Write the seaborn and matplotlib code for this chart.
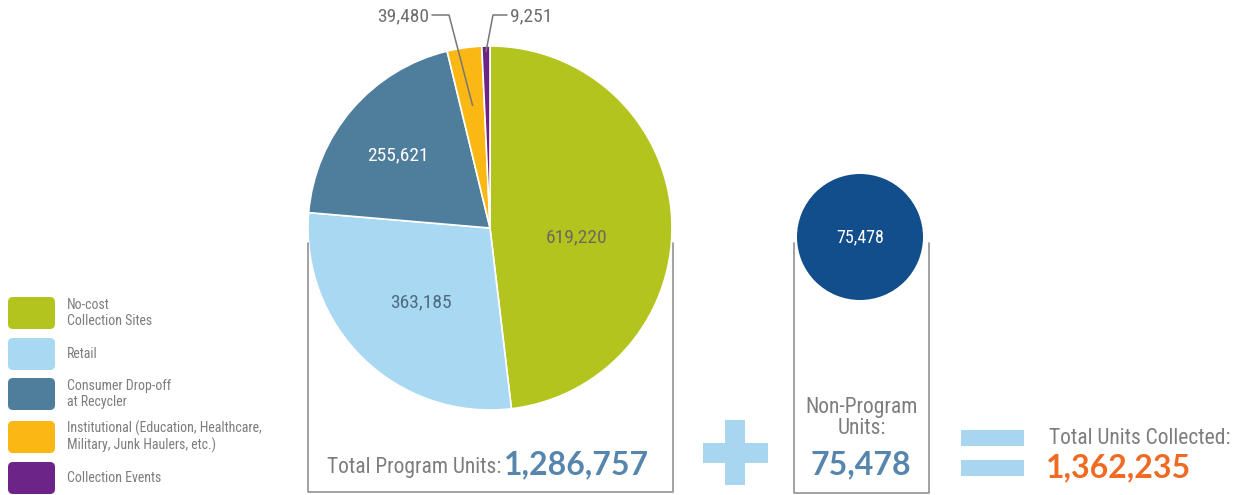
import matplotlib
matplotlib.use("Agg")
import numpy as np
import matplotlib.pyplot as plt
from matplotlib import font_manager as fm
from matplotlib.patches import FancyBboxPatch, Rectangle
import seaborn as sns

# ---------------- data ----------------
categories = ["No-cost\nCollection Sites", "Retail", "Consumer Drop-off\nat Recycler",
              "Institutional (Education, Healthcare,\nMilitary, Junk Haulers, etc.)",
              "Collection Events"]
program_units = [619220, 363185, 255621, 39480, 9251]
non_program_units = [75478]
total_program_units = 1286757
total_units_collected = 1362235

# ---------------- style ----------------
sns.set_theme(style="white")
fonts = fm.fontManager.ttflist
avail = {f.name for f in fonts}


def pick(cands):
    return next((c for c in cands if c in avail), "DejaVu Sans")


def pick_bold(cands):
    for c in cands:
        if any(f.name == c and isinstance(f.weight, int) and f.weight >= 700 for f in fonts):
            return c
        if any(f.name == c and f.weight in ("bold", "heavy", "black") for f in fonts):
            return c
    return "DejaVu Sans"


NARROW = [pick(['Roboto Condensed', 'Fira Sans Condensed', 'Liberation Sans Narrow']), 'DejaVu Sans']
BOLD = [pick_bold(['Nunito', 'Nunito Sans', 'Lato', 'Open Sans']), 'DejaVu Sans']
plt.rcParams['font.family'] = NARROW

palette = sns.color_palette(["#b4c41e", "#a9d8f3", "#4e7e9b", "#fbb713", "#6c2489"])
navy = "#124d8c"
grey_txt = "#7d7d7d"
steel_txt = "#5686ad"
orange_txt = "#f06a22"
box_col = "#9a9a9a"
sym_col = "#a8d6f1"

W, H = 1246, 495
fig = plt.figure(figsize=(W / 100, H / 100), dpi=100)
ax = fig.add_axes([0, 0, 1, 1])


def Y(y):
    return H - y


# ---------------- main pie ----------------
pc = (490, Y(228))
pr = 182
wedges, _ = ax.pie(program_units, colors=palette, startangle=90, counterclock=False,
                   center=pc, radius=pr,
                   wedgeprops=dict(edgecolor="white", linewidth=1.2))

fmt = lambda v: f"{v:,}"
inside = [(0, (577, 237), "#6d6a5c"), (1, (421, 302), "#4f6b80"), (2, (398, 155), "white")]
for i, (x, y), c in inside:
    ax.text(x, Y(y), fmt(program_units[i]), ha="center", va="center",
            fontsize=14, color=c, family=NARROW)


def wedge_point(w, frac):
    ang = np.deg2rad((w.theta1 + w.theta2) / 2)
    return pc[0] + frac * pr * np.cos(ang), pc[1] + frac * pr * np.sin(ang)


# outside labels with leader lines
ex, ey = wedge_point(wedges[3], 0.68)
ax.plot([432, 449, ex], [Y(15), Y(15), ey], color="#777777", lw=1.1)
ax.text(429, Y(16), fmt(program_units[3]), ha="right", va="center",
        fontsize=14, color="#6e6e6e", family=NARROW)
ex, ey = wedge_point(wedges[4], 0.97)
ax.plot([507, 493, ex], [Y(15), Y(15), ey], color="#777777", lw=1.1)
ax.text(510, Y(16), fmt(program_units[4]), ha="left", va="center",
        fontsize=14, color="#6e6e6e", family=NARROW)

# box under pie
ax.plot([308, 308, 673, 673], [Y(243), Y(492), Y(492), Y(243)], color=box_col, lw=1.3)
ax.text(501, Y(467), "Total Program Units:", ha="right", va="center",
        fontsize=15.5, color=grey_txt, family=NARROW)
ax.text(504, Y(465), fmt(total_program_units), ha="left", va="center",
        fontsize=23, color=steel_txt, weight="bold", family=BOLD)

# ---------------- non-program pie ----------------
nc = (860, Y(237))
ax.pie(non_program_units, colors=[navy], startangle=90, center=nc, radius=63,
       wedgeprops=dict(linewidth=0))
ax.text(nc[0], nc[1], fmt(non_program_units[0]), ha="center", va="center",
        fontsize=13, color="white", family=NARROW)
ax.plot([794, 794, 929, 929], [Y(243), Y(493), Y(493), Y(243)], color=box_col, lw=1.3)
ax.text(862, Y(418), "Non-Program\nUnits:", ha="center", va="center",
        fontsize=15.5, color=grey_txt, family=NARROW, linespacing=1.0)
ax.text(861, Y(465), fmt(non_program_units[0]), ha="center", va="center",
        fontsize=23, color=steel_txt, weight="bold", family=BOLD)

# ---------------- plus and equal symbols ----------------
ax.add_patch(Rectangle((703, Y(463)), 65, 20, color=sym_col, lw=0))
ax.add_patch(Rectangle((725, Y(485)), 20, 65, color=sym_col, lw=0))
ax.add_patch(Rectangle((961, Y(446)), 63, 16, color=sym_col, lw=0))
ax.add_patch(Rectangle((961, Y(476)), 63, 16, color=sym_col, lw=0))

ax.text(1049, Y(439), "Total Units Collected:", ha="left", va="center",
        fontsize=15.5, color=grey_txt, family=NARROW)
ax.text(1046, Y(468), fmt(total_units_collected), ha="left", va="center",
        fontsize=23, color=orange_txt, weight="bold", family=BOLD)

# ---------------- legend ----------------
tops = [297, 338, 378, 421, 462]
for cat, col, top in zip(categories, palette, tops):
    ax.add_patch(FancyBboxPatch((10, Y(top + 30)), 43, 28,
                                boxstyle="round,pad=2,rounding_size=5",
                                facecolor=col, edgecolor="none"))
    ax.text(67, Y(top + 16), cat, ha="left", va="center", fontsize=10,
            color=grey_txt, family=NARROW, linespacing=1.15)

ax.set_xlim(0, W)
ax.set_ylim(0, H)
ax.set_aspect("equal")
ax.axis("off")
fig.savefig("out.png", dpi=100, facecolor="white")
